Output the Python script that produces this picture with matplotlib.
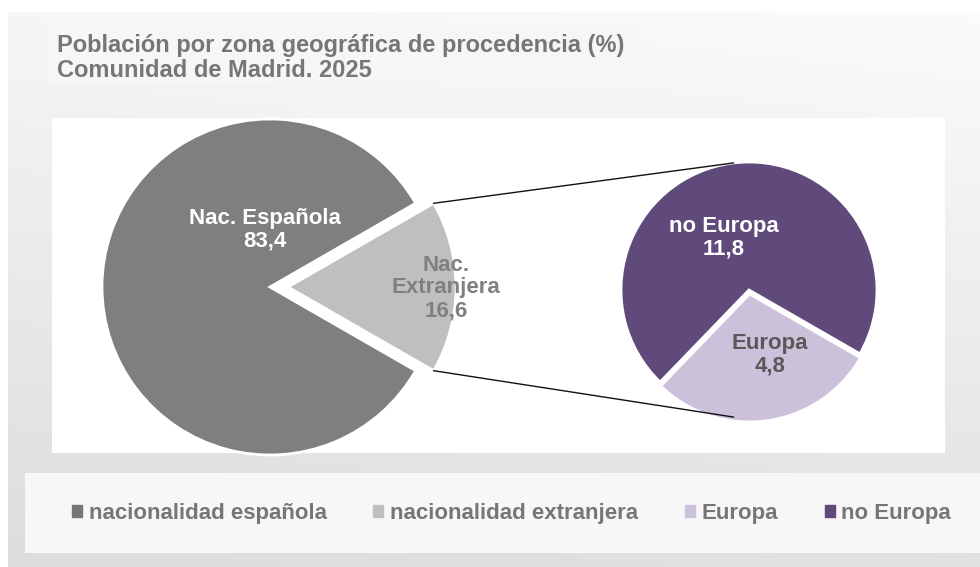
import matplotlib.pyplot as plt
import matplotlib.patches as mpatches
import numpy as np

# datos (%)
main_labels = ["Nac. Extranjera", "Nac. Española"]
main_values = [16.6, 83.4]
sub_labels = ["Europa", "no Europa"]
sub_values = [4.8, 11.8]

legend_labels = ["nacionalidad española", "nacionalidad extranjera", "Europa", "no Europa"]

c_esp = "#7f7f7f"
c_ext = "#bfbfbf"
c_eur = "#ccc1da"
c_noeur = "#5f4a7b"

W, H = 980, 567
fig = plt.figure(figsize=(W / 100, H / 100), dpi=100)
ax = fig.add_axes([0, 0, 1, 1])

def Y(p):
    # pixel row -> data y
    return H - p

def fmt(v):
    return str(v).replace(".", ",")

# fondo degradado (claro arriba a la derecha, mas oscuro abajo a la izquierda)
gy, gx = np.mgrid[0:1:200j, 0:1:200j]
shade = 0.965 - 0.10 * gy + 0.02 * gx
img = np.dstack([shade, shade, shade])
ax.imshow(img, extent=(8, W, Y(H), Y(12)), aspect="auto", zorder=0, origin="upper")

# cajas
ax.add_patch(mpatches.Rectangle((47, Y(85)), 593, 60, color="#f6f6f6", zorder=0.5, lw=0))
ax.add_patch(mpatches.Rectangle((52, Y(453)), 893, 335, color="white", zorder=0.5, lw=0))
ax.add_patch(mpatches.Rectangle((25, Y(553)), 955, 80, color="#f7f7f7", zorder=0.5, lw=0))

# titulo
ax.text(57, Y(58), "Población por zona geográfica de procedencia (%)\nComunidad de Madrid. 2025",
        fontsize=17, fontweight="bold", color="#767676", family="Liberation Sans",
        va="center", ha="left", linespacing=1.12)

# pastel principal
big_c = (270, Y(287))
big_r = 168
big_exp = 18  # desplazamiento en px
half = main_values[0] / sum(main_values) * 360 / 2
ax.pie(main_values, colors=[c_ext, c_esp], startangle=-half, center=big_c, radius=big_r,
       explode=[big_exp, 0], wedgeprops=dict(edgecolor="white", linewidth=2), frame=True)

# pastel secundario
sub_c = (749, Y(290))
sub_r = 128
ax.pie(sub_values, colors=[c_eur, c_noeur], startangle=226, center=sub_c, radius=sub_r,
       explode=[4, 0], wedgeprops=dict(edgecolor="white", linewidth=2), frame=True)

# lineas de conexion
apex_x = big_c[0] + big_exp
for sgn in (1, -1):
    a = np.deg2rad(sgn * half)
    x0 = apex_x + big_r * np.cos(a)
    y0 = big_c[1] + big_r * np.sin(a)
    b = np.deg2rad(90 + 7 if sgn > 0 else 270 - 7)
    x1 = sub_c[0] + sub_r * np.cos(b)
    y1 = sub_c[1] + sub_r * np.sin(b)
    ax.plot([x0, x1], [y0, y1], color="#111111", lw=1.0, zorder=3)

# etiquetas
lab = dict(fontsize=16, fontweight="bold", family="Liberation Sans", ha="center", va="center",
           linespacing=1.1, zorder=4)
ax.text(265, Y(230), "Nac. Española\n" + fmt(main_values[1]), color="white", **lab)
ax.text(446, Y(288), "Nac.\nExtranjera\n" + fmt(main_values[0]), color="#808080", **lab)
ax.text(724, Y(238), "no Europa\n" + fmt(sub_values[1]), color="white", **lab)
ax.text(770, Y(355), "Europa\n" + fmt(sub_values[0]), color="#595959", **lab)

# leyenda
handles = [mpatches.Patch(color=c) for c in ["#767676", c_ext, c_eur, c_noeur]]
leg = ax.legend(handles, legend_labels, loc="center left", bbox_to_anchor=(72 / W, 1 - 513 / H),
                ncol=4, frameon=False, handlelength=0.45, handleheight=0.45, handletextpad=0.3,
                columnspacing=2.1, borderaxespad=0, borderpad=0,
                prop=dict(family="Liberation Sans", weight="bold", size=16))
for t in leg.get_texts():
    t.set_color("#767676")

ax.set_xlim(0, W)
ax.set_ylim(0, H)
ax.set_aspect("auto")
ax.axis("off")

fig.savefig("out.png", dpi=100, facecolor="white")
